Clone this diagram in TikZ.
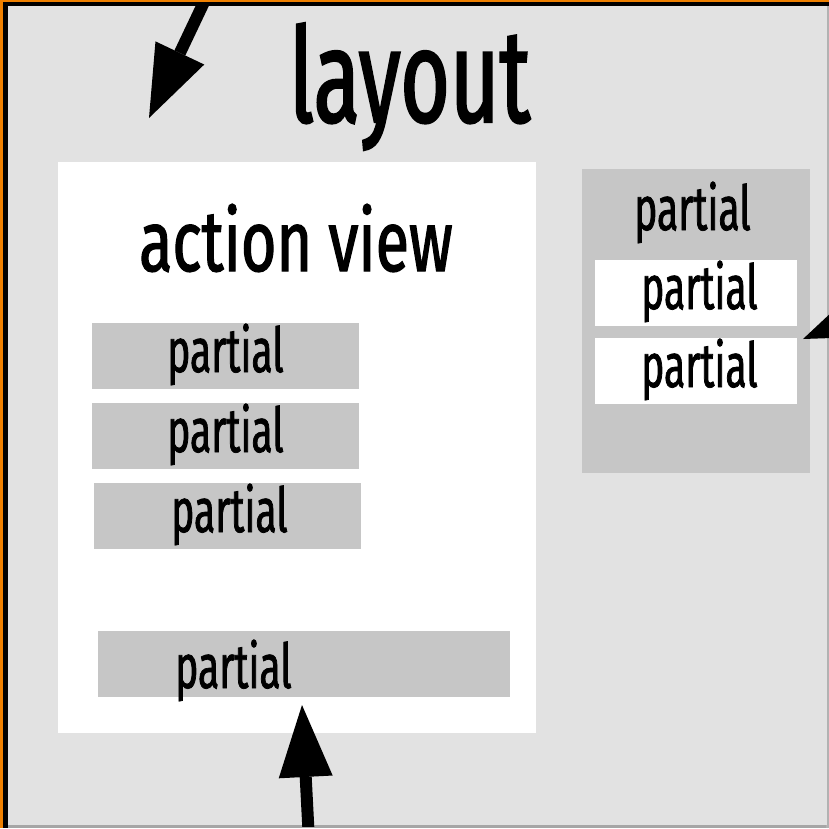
\documentclass[tikz,border=0pt]{standalone}
\usepackage{fontspec}
\usetikzlibrary{arrows.meta}
\newfontfamily\handP[FakeStretch=0.63,FakeBold=1.2]{Fira Sans}
\newfontfamily\handL[FakeStretch=0.645,FakeBold=1.6]{Fira Sans}
\newfontfamily\handA[FakeStretch=0.71,FakeBold=1.4]{Fira Sans}
\definecolor{bggray}{HTML}{E2E2E2}
\definecolor{boxgray}{HTML}{C6C6C6}
\definecolor{frameorange}{RGB}{239,128,0}
\tikzset{
  graybox/.style={fill=boxgray, draw=none, inner sep=0pt},
  whitebox/.style={fill=white, draw=none, inner sep=0pt},
  lbl/.style={inner sep=0pt, anchor=base west, text=black},
  plbl/.style={lbl, font=\handP\fontsize{62}{62}\selectfont},
  bigarrow/.style={line width=12pt, draw=black, -{Triangle[length=72pt,width=54pt,line width=0pt]}}
}
\begin{document}
\begin{tikzpicture}[x=1pt,y=-1pt]
\useasboundingbox (0,0) rectangle (829,828);
% frame
\fill[frameorange] (0,0) rectangle (829,828);
\fill[black] (3,2) rectangle (829,828);
\fill[gray!70] (8,824) rectangle (829,828);
\fill[gray!60] (826,6) rectangle (829,828);
\fill[bggray] (8,6) rectangle (827,825);
\begin{scope}
\clip (8,6) rectangle (829,826);
% title
\node[lbl, font=\handL\fontsize{132}{132}\selectfont] (layout) at (289,122) {layout};
% action view panel
\node[whitebox, minimum width=478pt, minimum height=571pt] (av) at (297,447.5) {};
\node[lbl, font=\handA\fontsize{86}{86}\selectfont] (avt) at (139,271) {action view};
\node[graybox, minimum width=267pt, minimum height=66pt] (p1) at (225.5,356) {};
\node[graybox, minimum width=267pt, minimum height=66pt] (p2) at (225.5,436) {};
\node[graybox, minimum width=267pt, minimum height=66pt] (p3) at (227.5,516) {};
\node[graybox, minimum width=412pt, minimum height=66pt] (p4) at (304,664) {};
\node[plbl] (t1) at (167,372) {partial};
\node[plbl] (t2) at (167,452) {partial};
\node[plbl] (t3) at (171,532) {partial};
\node[plbl] (t4) at (175,688) {partial};
% right panel
\node[graybox, minimum width=228pt, minimum height=304pt] (rp) at (696,321) {};
\node[plbl] (rt) at (634,230) {partial};
\node[whitebox, minimum width=202pt, minimum height=66pt] (w1) at (696,293) {};
\node[whitebox, minimum width=202pt, minimum height=66pt] (w2) at (696,371) {};
\node[plbl] (wt1) at (641,309) {partial};
\node[plbl] (wt2) at (641,387) {partial};
% arrows
\coordinate (s1) at (233,-59);
\coordinate (e1) at (149,118);
\coordinate (s2) at (311,880);
\coordinate (e2) at (302,705);
\coordinate (s3) at (950,278);
\coordinate (e3) at (803,339);
\draw[bigarrow] (s1) -- (e1);
\draw[bigarrow] (s2) -- (e2);
\draw[bigarrow] (s3) -- (e3);
\end{scope}
\end{tikzpicture}
\end{document}
